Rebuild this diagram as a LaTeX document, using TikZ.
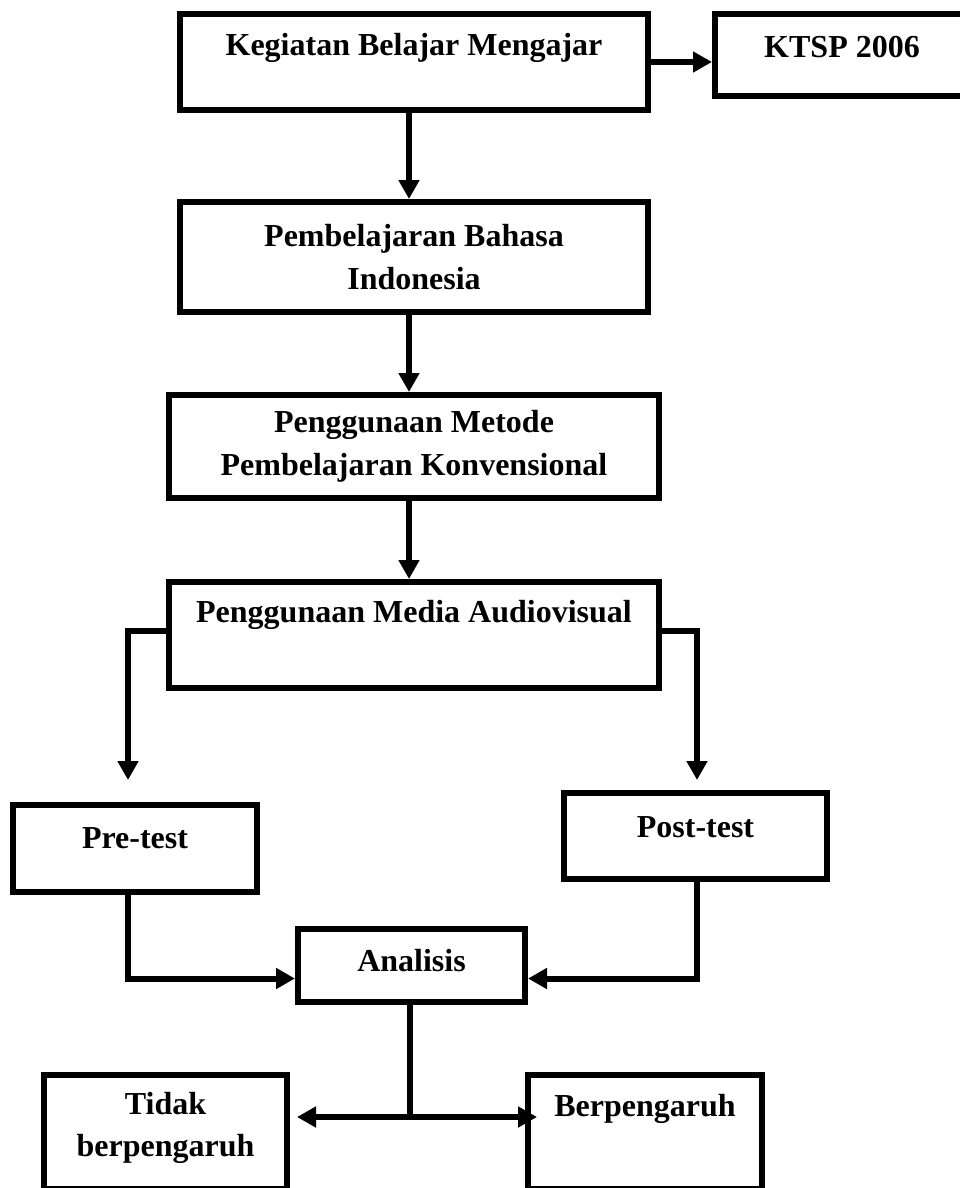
\documentclass[tikz,border=0pt]{standalone}
\usepackage{fontspec}
\setmainfont{Liberation Serif}
\usepackage{tikz}
\usetikzlibrary{arrows.meta}

\begin{document}
\begin{tikzpicture}[
    x=1pt, y=-1pt,
    txt/.style={
      font=\fontsize{32pt}{42.5pt}\selectfont\bfseries,
      align=center,
      inner sep=0pt
    },
    box/.style={
      draw,
      rectangle,
      line width=6pt,
      inner sep=0pt,
      txt
    },
    flow/.style={
      line width=6pt,
      -{Triangle[length=19pt,width=20pt]}
    },
    link/.style={
      line width=6pt
    }
  ]

    \useasboundingbox (0,0) rectangle (960,1188);

    % Kotak alur
    \node[box, minimum width=468pt, minimum height=96pt,
      label={[txt, yshift=14pt]center:Kegiatan Belajar Mengajar}]
      (kbm) at (414,62) {};

    \node[box, minimum width=254pt, minimum height=82pt,
      label={[txt, yshift=8pt]center:KTSP 2006}]
      (ktsp) at (842,55) {};

    \node[box, minimum width=468pt, minimum height=110pt]
      (bahasa) at (414,257)
      {Pembelajaran Bahasa\\Indonesia};

    \node[box, minimum width=490pt, minimum height=103pt]
      (metode) at (414,446.5)
      {Penggunaan Metode\\Pembelajaran Konvensional};

    \node[box, minimum width=490pt, minimum height=106pt,
      label={[txt, yshift=20pt]center:Penggunaan Media Audiovisual}]
      (media) at (414,635) {};

    \node[box, minimum width=244pt, minimum height=87pt,
      label={[txt, yshift=10pt]center:Pre-test}]
      (pre) at (135,848.5) {};

    \node[box, minimum width=263pt, minimum height=86pt,
      label={[txt, yshift=9pt]center:Post-test}]
      (post) at (695.5,836) {};

    \node[box, minimum width=227pt, minimum height=73pt,
      label={[txt, yshift=5pt]center:Analisis}]
      (an) at (411.5,965.5) {};

    \node[box, minimum width=243pt, minimum height=114pt,
      label={[txt, yshift=4pt]center:Tidak\\berpengaruh}]
      (tidak) at (165.5,1132) {};

    \node[box, minimum width=234pt, minimum height=114pt,
      label={[txt, yshift=23pt]center:Berpengaruh}]
      (berp) at (645,1132) {};

    % Titik bantu
    \coordinate (preIn) at (128,780);
    \coordinate (postIn) at (697,780);
    \coordinate (split) at (410,1117);

    % Panah
    \draw[flow] (kbm.east) -- (kbm.east -| ktsp.west);
    \draw[flow] ([xshift=-5pt]kbm.south) -- ([xshift=-5pt]bahasa.north);
    \draw[flow] ([xshift=-5pt]bahasa.south) -- ([xshift=-5pt]metode.north);
    \draw[flow] ([xshift=-5pt]metode.south) -- ([xshift=-5pt]media.north);

    \draw[flow] ([yshift=4pt]media.west) -| (preIn);
    \draw[flow] ([yshift=4pt]media.east) -| (postIn);

    \draw[flow] (preIn |- pre.south) |- ([yshift=-13pt]an.west);
    \draw[flow] (postIn |- post.south) |- ([yshift=-13pt]an.east);

    \draw[link] (an.south -| split) -- (split);
    \draw[flow, shorten >=7pt] (split) -- (split -| tidak.east);
    \draw[flow, shorten >=-12pt] (split) -- (split -| berp.west);

  \end{tikzpicture}
\end{document}
